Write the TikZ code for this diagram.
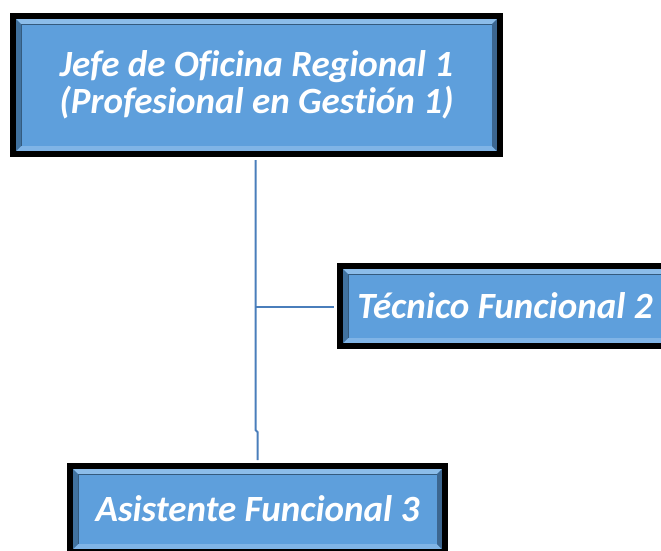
\documentclass[tikz,border=0pt]{standalone}
\usepackage{fontspec}
\setmainfont{Carlito}[Ligatures=NoCommon]
\definecolor{boxblue}{HTML}{5E9FDC}
\definecolor{bvtop}{HTML}{8CBDEA}
\definecolor{bvleft}{HTML}{41729F}
\definecolor{bvright}{HTML}{3C6690}
\definecolor{bvbot}{HTML}{80B4E6}
\definecolor{linkblue}{HTML}{4A7EBB}
\begin{document}
\begin{tikzpicture}[x=1pt,y=-1pt,
  orgbox/.style={rectangle, draw=black, line width=6pt, fill=boxblue,
    inner sep=0pt, text=white, align=center,
    font=\fontsize{37}{36.7}\selectfont\bfseries\itshape,
    path picture={
      \fill[bvtop] (path picture bounding box.north west) -- (path picture bounding box.north east)
        -- ([xshift=-8pt,yshift=-8pt]path picture bounding box.north east)
        -- ([xshift=8pt,yshift=-8pt]path picture bounding box.north west) -- cycle;
      \fill[bvbot] (path picture bounding box.south west) -- (path picture bounding box.south east)
        -- ([xshift=-8pt,yshift=8pt]path picture bounding box.south east)
        -- ([xshift=8pt,yshift=8pt]path picture bounding box.south west) -- cycle;
      \fill[bvleft] (path picture bounding box.north west) -- (path picture bounding box.south west)
        -- ([xshift=8pt,yshift=8pt]path picture bounding box.south west)
        -- ([xshift=8pt,yshift=-8pt]path picture bounding box.north west) -- cycle;
      \fill[bvright] (path picture bounding box.north east) -- (path picture bounding box.south east)
        -- ([xshift=-8pt,yshift=8pt]path picture bounding box.south east)
        -- ([xshift=-8pt,yshift=-8pt]path picture bounding box.north east) -- cycle;
      \draw[bvleft!80!black, line width=0.8pt]
        ([xshift=8pt,yshift=8pt]path picture bounding box.south west)
        -- ([xshift=8pt,yshift=-8pt]path picture bounding box.north west)
        -- ([xshift=-8pt,yshift=-8pt]path picture bounding box.north east);
    }},
  conn/.style={draw=linkblue, line width=2pt}]
\useasboundingbox (0,0) rectangle (661,550);
\fill[white] (0,0) rectangle (661,550);

\node[orgbox, minimum width=487pt, minimum height=138pt] (top) at (256.5,85)
  {Jefe de Oficina Regional 1\\(Profesional en Gestión 1)};
\node[orgbox, minimum width=330pt, minimum height=80pt] (mid) at (505,306)
  {Técnico Funcional 2};
\node[orgbox, minimum width=375pt, minimum height=86pt] (bot) at (257.5,509)
  {Asistente Funcional 3};

\coordinate (bend) at (255.5,430);
\coordinate (bend2) at (257.5,432);
\coordinate (tee) at (255.5,307);
\draw[conn] ([yshift=-3pt]top.south -| bend) -- (bend) -- (bend2) -- ([yshift=3pt]bot.north);
\draw[conn] (tee) -- ([xshift=-3pt]mid.west |- tee);
\end{tikzpicture}
\end{document}
